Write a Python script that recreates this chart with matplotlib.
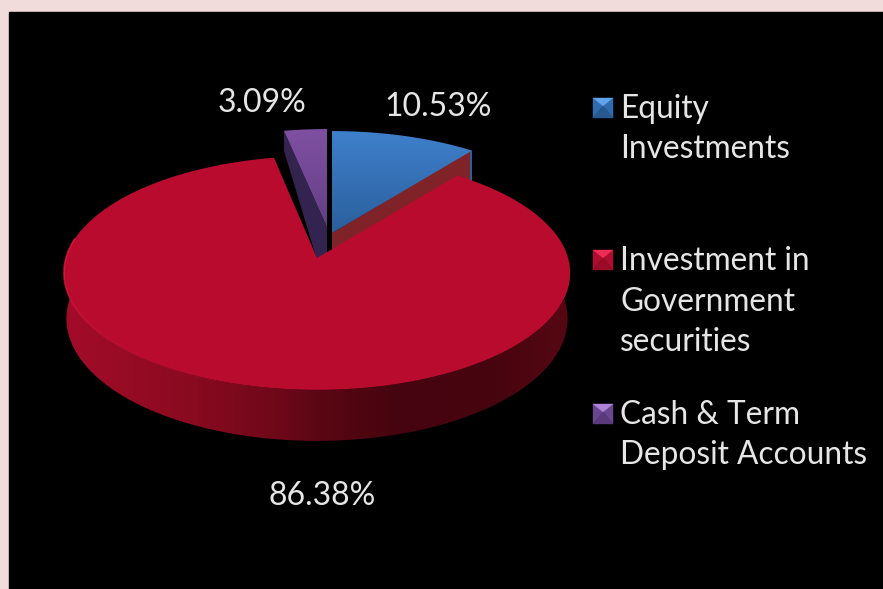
import numpy as np
import matplotlib
matplotlib.use("Agg")
import matplotlib.pyplot as plt
from matplotlib.patches import Polygon, Rectangle
from matplotlib.collections import LineCollection
from matplotlib.colors import LinearSegmentedColormap

# chart data
categories = ["Equity\nInvestments", "Investment in\nGovernment\nsecurities", "Cash & Term\nDeposit Accounts"]
shares = [10.53, 86.38, 3.09]
pct_labels = ["10.53%", "86.38%", "3.09%"]

plt.rcParams['font.family'] = ['Lato', 'DejaVu Sans']

fig = plt.figure(figsize=(8.83, 5.89), dpi=100, facecolor="#f2dcdb")
ax = fig.add_axes([0, 0, 1, 1])
ax.axis("off")
ax.add_patch(Rectangle((9, 12), 874, 577, color="black", zorder=0))

# slice angles, clockwise from 12 o'clock
ends = np.cumsum(shares) / 100 * 2 * np.pi
starts = np.r_[0, ends[:-1]]


def project(t, cx, cy):
    # circle in the pie plane to screen pixels, with a little perspective
    u, v = np.sin(t), np.cos(t)
    w = 1 + 0.128 * v
    return cx + 251 * u / w, cy - 115 * v / w


def gradient_fill(pts, stops, z, horizontal=False):
    cmap = LinearSegmentedColormap.from_list("g", stops)
    x0, x1, y0, y1 = pts[:, 0].min(), pts[:, 0].max(), pts[:, 1].min(), pts[:, 1].max()
    g = np.linspace(0, 1, 256)
    g = g[None, :] if horizontal else g[:, None]
    im = ax.imshow(g, cmap=cmap, aspect="auto", extent=(x0, x1, y1, y0), zorder=z)
    clip = Polygon(pts, closed=True, transform=ax.transData, fc="none", ec="none")
    ax.add_patch(clip)
    im.set_clip_path(clip)


rim_x = [60, 130, 200, 280, 320, 400, 500, 575]
rim_c = ["#a30c29", "#960b24", "#860a1f", "#6d0819", "#5a0713", "#45040f", "#47050f", "#560812"]
rim_stops = list(zip((np.array(rim_x) - 60) / 515, rim_c))

# blue slice: outer rim, cut wall, top
bx, by = 332, 233
xb, yb = project(np.linspace(starts[0], ends[0], 100), bx, by)
tipx, tipy = xb[-1], yb[-1]
ax.add_patch(Polygon([(tipx - 2, tipy), (tipx, tipy), (tipx, tipy + 30), (tipx - 2, tipy + 30)],
                     fc="#2a5f9c", zorder=1))
ax.add_patch(Polygon([(bx, by), (tipx - 2, tipy), (tipx - 2, tipy + 30), (bx, by + 30)],
                     fc="#7f2328", zorder=2))
gradient_fill(np.c_[np.r_[bx, xb], np.r_[by, yb]], ["#3f80cc", "#2a5f9c"], 3)

# purple slice: cut wall, top
px, py = 327, 227
xp, yp = project(np.linspace(starts[2], ends[2], 60), px, py + 4)
ax.add_patch(Polygon([(xp[0], yp[0]), (px, py), (px, py + 66), (xp[0], yp[0] + 20)],
                     fc="#33244f", zorder=2))
gradient_fill(np.c_[np.r_[px, xp], np.r_[py, yp]], ["#7f50a2", "#643f84"], 3)

# red slice: rim, top
cx, cy = 317, 258
xr, yr = project(np.linspace(starts[1], ends[1], 500), cx, cy)
x2 = cx + (xr - cx) * 0.99
y2 = yr + 45 + 6 * (yr - cy) / 132
keep = yr > 230
rim = np.r_[np.c_[xr[keep], yr[keep]], np.c_[x2[keep], y2[keep]][::-1]]
gradient_fill(rim, rim_stops, 4, horizontal=True)
ax.add_patch(Polygon(np.c_[np.r_[cx, xr], np.r_[cy, yr]], fc="#b80b2e", ec="none", zorder=5))

# bright edge on lower left of the top face, fading out towards the bottom
hx, hy = project(np.linspace(np.radians(185), np.radians(280), 160), cx, cy)
segs = np.stack([np.c_[hx[:-1], hy[:-1]], np.c_[hx[1:], hy[1:]]], axis=1)
fade = np.linspace(0, 0.8, len(segs))
edge = LineCollection(segs, colors=[(0.93, 0.1, 0.27, a) for a in fade], linewidths=1.3, zorder=6)
ax.add_collection(edge)

# data labels
txt = "#e6e6e6"
ax.text(438, 107, pct_labels[0], color=txt, fontsize=23, ha="center", va="center")
ax.text(322, 496, pct_labels[1], color=txt, fontsize=23, ha="center", va="center")
ax.text(262, 103, pct_labels[2], color=txt, fontsize=23, ha="center", va="center")

# legend
leg_y = [[107, 147], [259, 300, 340], [413, 453]]
leg_col = [("#2f6bb0", "#5fa4ec", "#27598f"), ("#b00c30", "#ee2c56", "#9a0b2a"), ("#6a4590", "#ae84da", "#5a3a7c")]
for name, ys, (mid, hi, lo) in zip(categories, leg_y, leg_col):
    for line, y in zip(name.split("\n"), ys):
        ax.text(620, y + 2, line, color=txt, fontsize=22.8, ha="left", va="center")
    s, c = 593, ys[0]
    a, b = c - 9, c + 11
    m = a + 8
    for tri, col in [([(s, a), (s + 10, m), (s, b)], mid), ([(s + 20, a), (s + 10, m), (s + 20, b)], mid),
                     ([(s, b), (s + 20, b), (s + 10, m)], lo), ([(s, a), (s + 20, a), (s + 10, m)], hi)]:
        ax.add_patch(Polygon(tri, fc=col, ec=col, lw=0.3, zorder=3))

ax.set_xlim(0, 883)
ax.set_ylim(589, 0)
fig.savefig("out.png", dpi=100, facecolor=fig.get_facecolor())
